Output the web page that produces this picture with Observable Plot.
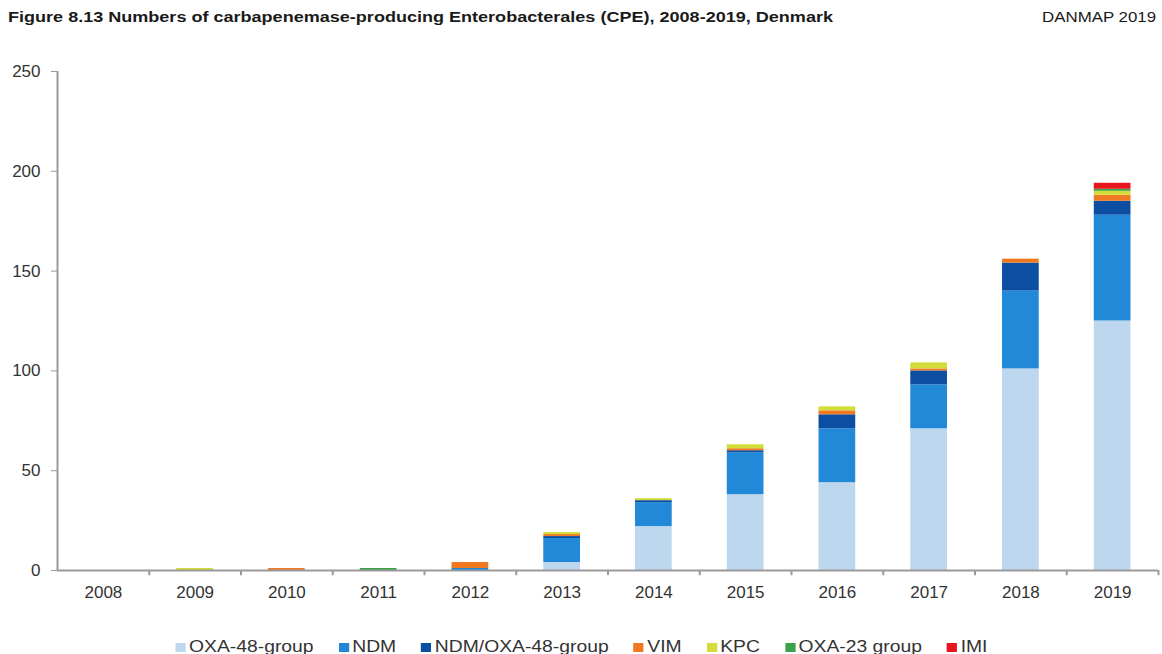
<!DOCTYPE html>
<html>
<head>
<meta charset="utf-8">
<script src="https://cdn.jsdelivr.net/npm/d3@7"></script>
<script src="https://cdn.jsdelivr.net/npm/@observablehq/plot@0.6"></script>
<style>
  html, body { margin: 0; padding: 0; background: #fff; }
  body { width: 1162px; height: 654px; overflow: hidden; font-family: "Liberation Sans", Arial, sans-serif; color: #222; }
  #header { position: relative; height: 56px; }
  #title { position: absolute; left: 8px; top: 9px; font-size: 14.5px; font-weight: bold; white-space: nowrap; transform-origin: left top; color: #1a1a1a; }
  #source { position: absolute; right: 6px; top: 9px; font-size: 14.5px; white-space: nowrap; transform-origin: right top; color: #1a1a1a; }
  #legendWrap { display: flex; justify-content: center; margin-top: 22px; }
  #legend { display: inline-flex; align-items: center; gap: 22px; font-size: 17px; color: #333; transform-origin: center top; }
  .item { display: flex; align-items: center; white-space: nowrap; }
  .sw { width: 9px; height: 9px; margin-right: 3px; display: inline-block; }
</style>
</head>
<body>
<div id="header">
  <div id="title">Figure 8.13 Numbers of carbapenemase-producing Enterobacterales (CPE), 2008-2019, Denmark</div>
  <div id="source">DANMAP 2019</div>
</div>
<div id="chart"></div>
<div id="legendWrap"><div id="legend"></div></div>
<script>
const years = ["2008","2009","2010","2011","2012","2013","2014","2015","2016","2017","2018","2019"];
const types = ["OXA-48-group","NDM","NDM/OXA-48-group","VIM","KPC","OXA-23 group","IMI"];
const colors = ["#bdd7ee","#2189d8","#0b4ea2","#f07a22","#d2dd3a","#3aa24a","#e8141e"];
const oxa48  = [0,0,0,0,0, 4,22,38,44,71,101,125];
const ndm    = [0,0,0,0,1,12,12,21,27,22, 39, 53];
const ndmOxa = [0,0,0,0,0, 1, 1, 1, 7, 7, 14,  7];
const vim    = [0,0,1,0,3, 1, 0, 1, 2, 1,  2,  3];
const kpc    = [0,1,0,0,0, 1, 1, 2, 2, 3,  0,  2];
const oxa23  = [0,0,0,1,0, 0, 0, 0, 0, 0,  0,  1];
const imi    = [0,0,0,0,0, 0, 0, 0, 0, 0,  0,  3];
const yTicks = [0,50,100,150,200,250];

const series = [oxa48, ndm, ndmOxa, vim, kpc, oxa23, imi];
const data = [];
types.forEach((t, i) => years.forEach((y, j) => data.push({year: y, type: t, value: series[i][j]})));

const W = 1162, ML = 57, MR = 4;
const step = (W - ML - MR) / years.length;

const chart = Plot.plot({
  width: W,
  height: 559,
  marginLeft: ML,
  marginRight: MR,
  marginTop: 15,
  marginBottom: 45,
  style: {fontFamily: "Liberation Sans, Arial, sans-serif", fontSize: "17px", color: "#333", background: "#fff"},
  x: {domain: years, paddingInner: 0.6, paddingOuter: 0.3, round: false, label: null},
  y: {domain: [0, 250], label: null},
  color: {domain: types, range: colors},
  marks: [
    Plot.barY(data, {x: "year", y: "value", fill: "type"}),
    Plot.ruleY([0], {stroke: "#9a9a9a", strokeWidth: 2}),
    Plot.ruleX(["2008"], {y1: 0, y2: 250, dx: -step / 2, stroke: "#9a9a9a", strokeWidth: 2}),
    Plot.ruleX(years, {y1: 0, y2: -2.6, dx: step / 2, stroke: "#9a9a9a", strokeWidth: 2}),
    Plot.axisY({ticks: yTicks, tickSize: 6, tickPadding: 11, stroke: "#9a9a9a", fill: "#333", label: null}),
    Plot.axisX({tickSize: 0, tickPadding: 15, fill: "#333", label: null})
  ]
});
document.getElementById("chart").appendChild(chart);

const legend = document.getElementById("legend");
types.forEach((t, i) => {
  const it = document.createElement("div");
  it.className = "item";
  const sw = document.createElement("span");
  sw.className = "sw";
  sw.style.background = colors[i];
  it.appendChild(sw);
  it.appendChild(document.createTextNode(t));
  legend.appendChild(it);
});

// stretch text to the reference's widths
function fit(id, target) {
  const el = document.getElementById(id);
  const w = el.getBoundingClientRect().width;
  el.style.transform = `scaleX(${target / w})`;
}
fit("title", 825);
fit("source", 114);
fit("legend", 812);
</script>
</body>
</html>
